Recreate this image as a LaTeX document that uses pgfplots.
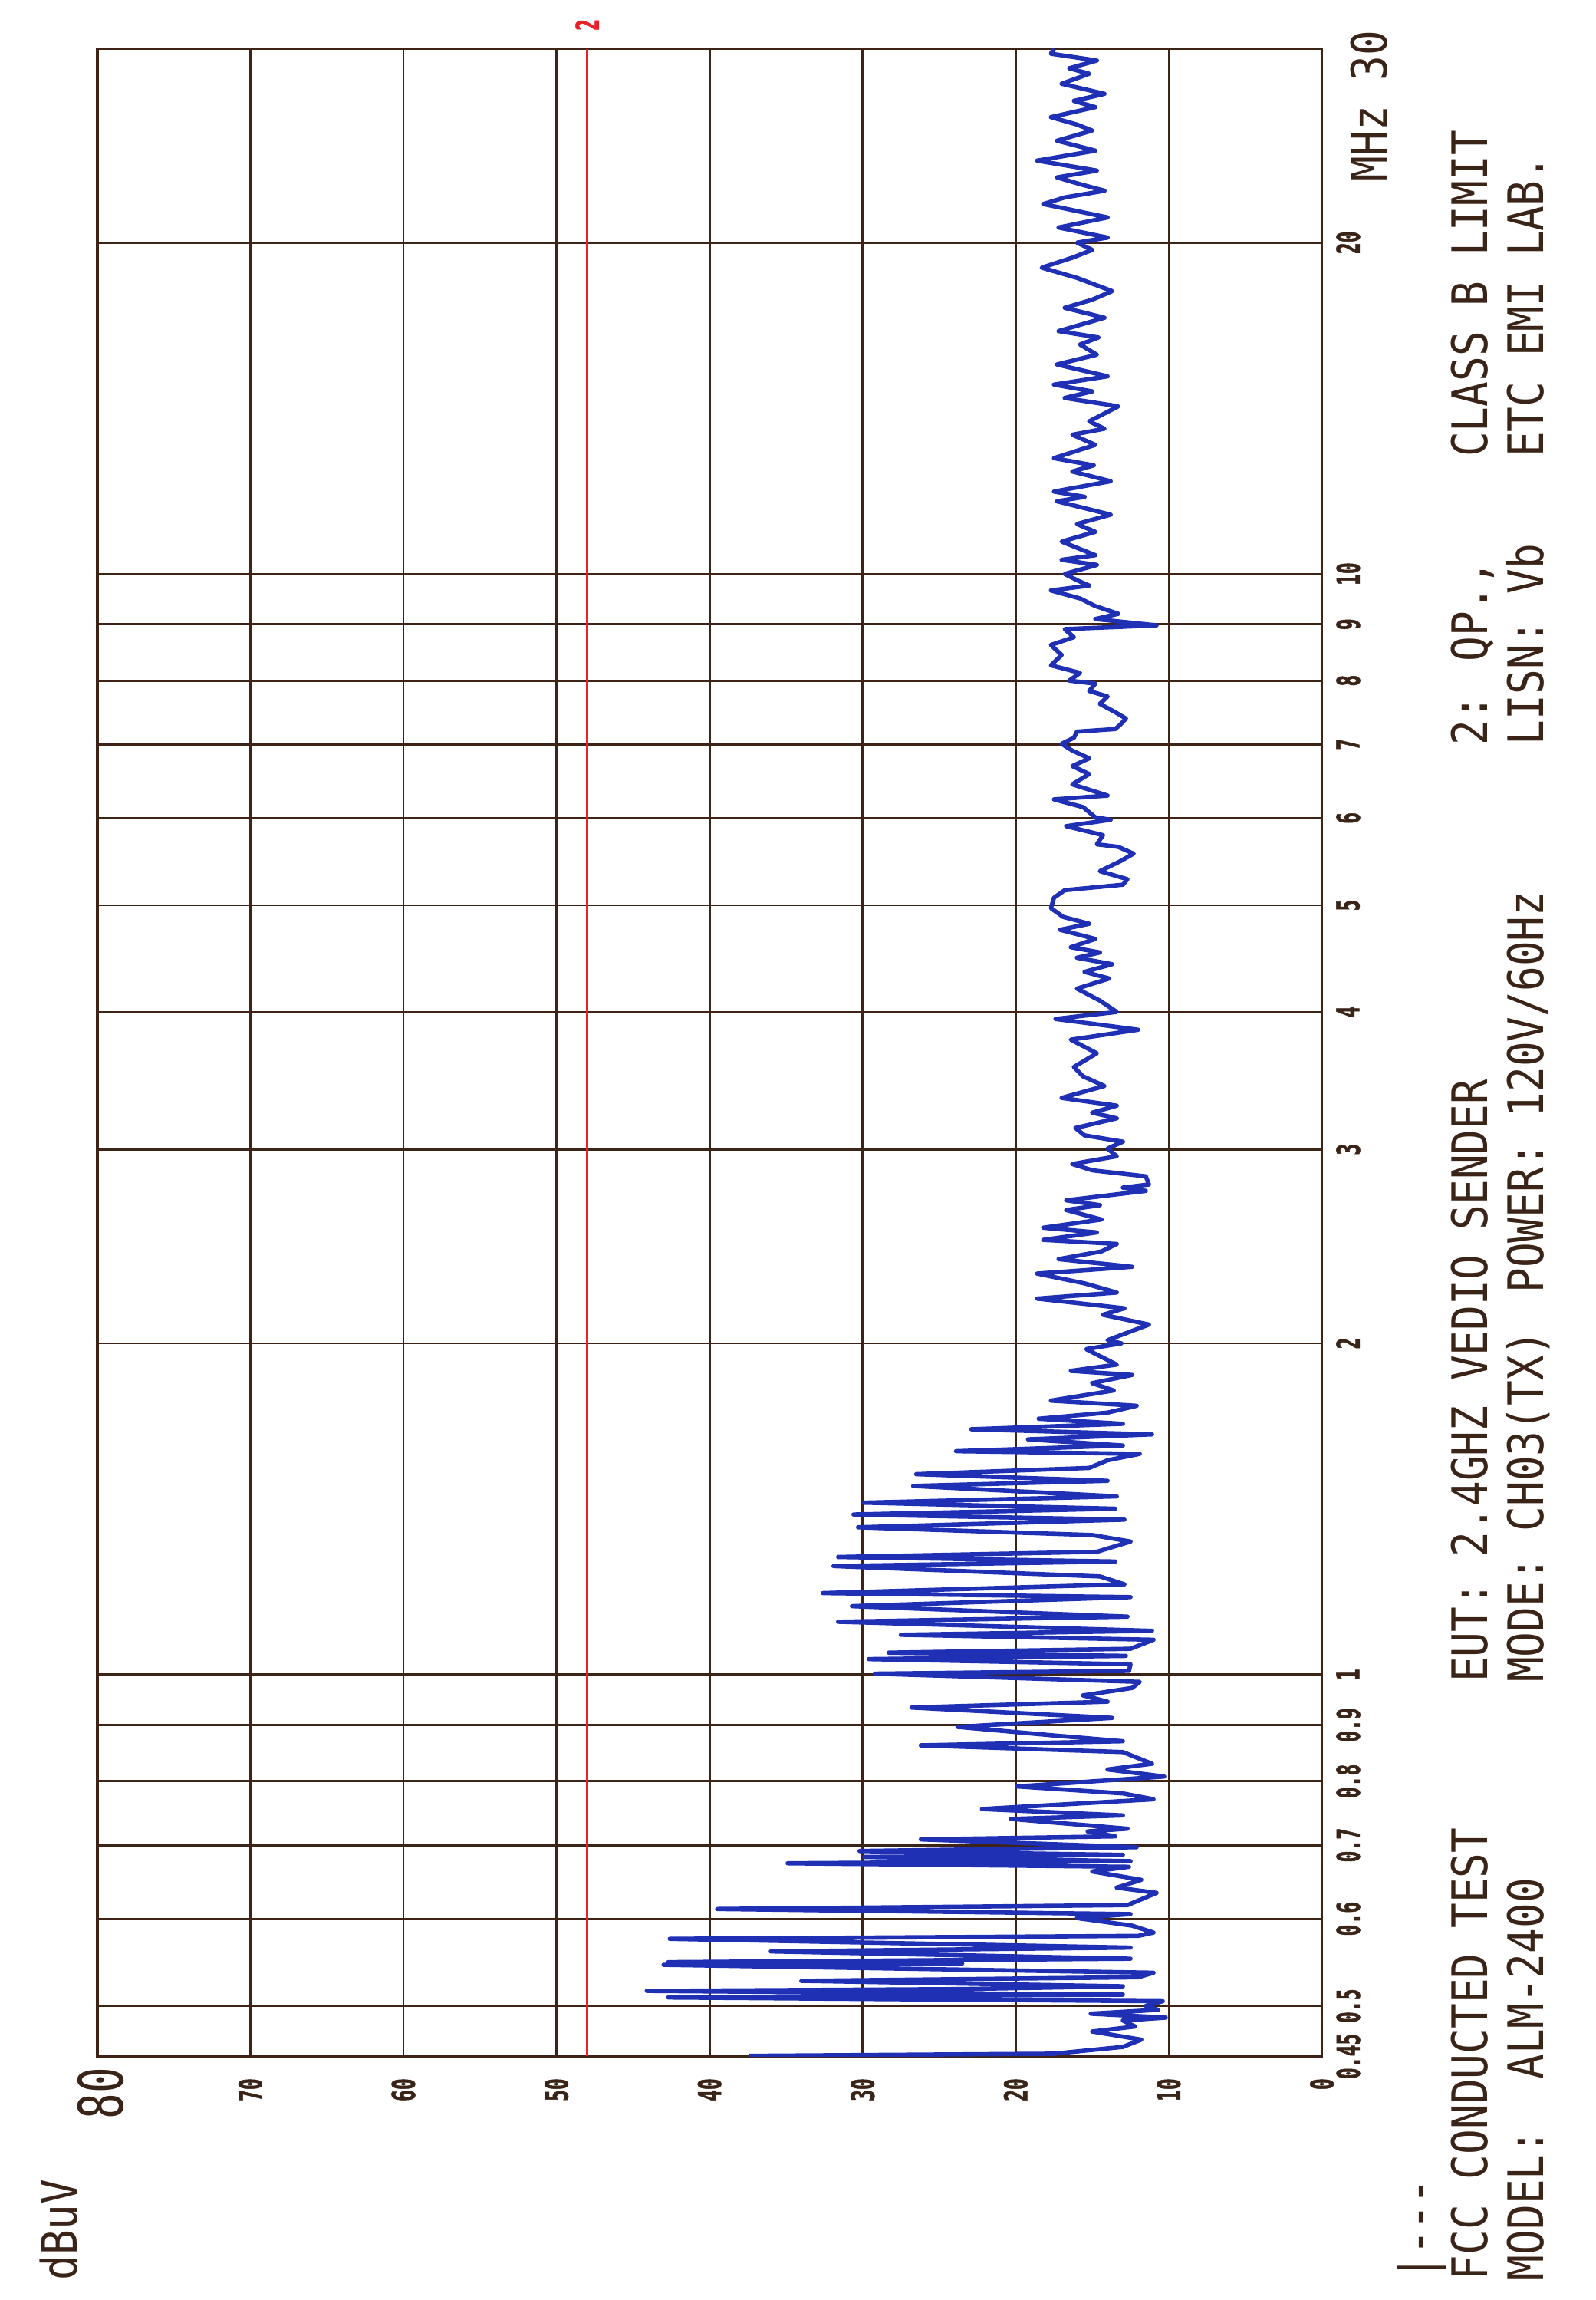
\documentclass[border=0pt]{standalone}
\usepackage{pgfplots}
\pgfplotsset{compat=1.18}
\usepackage{fontspec}
\newfontfamily\plotfont[FakeStretch=0.85]{DejaVu Sans Mono}
\newfontfamily\tickfont[FakeStretch=0.6, BoldFeatures={FakeBold=1.2}]{DejaVu Sans Mono}
\newfontfamily\bigfont[FakeStretch=0.7]{DejaVu Sans Mono}
\definecolor{gridc}{HTML}{3D2416}
\definecolor{tracec}{HTML}{1F30B4}
\definecolor{limitc}{HTML}{E8202A}
\definecolor{textc}{HTML}{3A2418}
\newcommand\mainf{\plotfont\fontsize{16}{16}\selectfont}
\newcommand\smallf{\tickfont\bfseries\fontsize{10.3}{10.3}\selectfont}
\begin{document}
\begin{tikzpicture}
\path[use as bounding box] (-31.7pt,-79.4pt) rectangle (488.4pt,670.1pt);
\begin{axis}[
  at={(0pt,0pt)}, anchor=south west,
  scale only axis, width=399.2pt, height=654.2pt,
  x dir=reverse, xmin=0, xmax=80,
  ymode=log, ymin=0.45, ymax=30,
  xtick={0,10,20,30,40,50,60,70},
  xticklabels={0,10,20,30,40,50,60,70},
  ytick={0.45,0.5,0.6,0.7,0.8,0.9,1,2,3,4,5,6,7,8,9,10,20,30},
  yticklabels={0.45,0.5,0.6,0.7,0.8,0.9,1,2,3,4,5,6,7,8,9,10,20,{}},
  yminorticks=false, xminorticks=false,
  grid=major, major grid style={gridc, line width=0.7pt},
  axis line style={gridc, line width=0.9pt},
  major tick length=0pt, minor tick length=0pt,
  yticklabel pos=right,
  yticklabel style={rotate=90, anchor=north, inner sep=0pt, font=\smallf, text=textc},
  yticklabel shift=4.5pt,
  xticklabel style={rotate=90, anchor=east, inner sep=0pt, font=\smallf, text=textc},
  xticklabel shift=7pt,
]
\addplot[limitc, line width=0.55pt] coordinates {(48,0.45) (48,30)};
\addplot[tracec, line width=1.4pt, line join=round] coordinates {
(37.4,0.4505) (17.5,0.4525) (13.0,0.459) (11.8,0.466) (15.0,0.474) (12.2,0.479)
(13.0,0.485) (10.2,0.488) (15.1,0.492) (10.7,0.496) (11.5,0.500) (10.4,0.505)
(42.7,0.509) (13.0,0.512) (44.1,0.516) (23.5,0.518) (13.0,0.521) (34.0,0.527)
(12.0,0.531) (11.0,0.536) (43.0,0.545) (23.5,0.5465) (42.7,0.548) (12.5,0.552)
(36.0,0.5605) (12.5,0.565) (42.6,0.5754) (12.0,0.579) (11.0,0.583) (12.4,0.5915)
(16.0,0.601) (12.5,0.606) (39.5,0.6125) (12.7,0.6175) (10.8,0.6335) (13.4,0.6405)
(11.8,0.651) (15.0,0.6625) (12.6,0.669) (34.9,0.674) (12.5,0.677) (29.9,0.683)
(13.0,0.686) (30.2,0.6915) (12.1,0.697) (26.2,0.7085) (13.5,0.713) (15.3,0.7205)
(12.7,0.7245) (20.3,0.7395) (13.0,0.745) (22.2,0.755) (11.0,0.7705) (13.0,0.780)
(19.9,0.7915) (10.3,0.808) (14.0,0.820) (11.1,0.830) (13.0,0.8505) (26.2,0.8625)
(13.0,0.870) (17.5,0.8805) (23.8,0.8965) (13.7,0.9135) (26.8,0.9335) (14.0,0.945)
(15.6,0.9575) (12.4,0.9725) (11.9,0.985) (29.2,1.002) (12.6,1.008)
(12.5,1.022) (29.6,1.033) (12.8,1.040) (28.3,1.047) (12.5,1.0556) (11.0,1.0757)
(27.5,1.087) (11.1,1.096) (31.6,1.117) (12.7,1.129) (30.7,1.154) (12.5,1.176)
(32.6,1.186) (12.9,1.208) (14.5,1.228) (31.9,1.255) (13.5,1.267) (31.6,1.279)
(14.7,1.293) (12.5,1.321) (15.0,1.339) (30.3,1.361) (12.9,1.383) (30.6,1.398)
(13.5,1.415) (29.9,1.433) (13.4,1.452) (26.7,1.484) (14.0,1.500) (26.5,1.521)
(15.2,1.541) (14.0,1.566) (11.9,1.587) (23.9,1.596) (13.0,1.615) (19.2,1.636)
(11.1,1.653) (22.9,1.671) (13.0,1.690) (18.5,1.708) (14.0,1.730) (12.1,1.755)
(17.7,1.774) (13.6,1.812) (15.0,1.840) (12.4,1.872) (16.4,1.888) (13.4,1.913)
(15.4,1.976) (13.1,2.000)
(14.0,2.013) (11.3,2.080) (14.3,2.123) (12.9,2.152) (18.6,2.196) (13.4,2.224)
(15.5,2.267) (18.6,2.314) (12.4,2.347) (17.2,2.385) (14.4,2.424) (13.4,2.462)
(18.2,2.483) (14.7,2.522) (18.2,2.547) (14.4,2.591) (16.7,2.643) (14.5,2.670)
(16.7,2.697) (11.5,2.751) (13.0,2.770) (11.3,2.788) (11.5,2.836) (15.0,2.872)
(16.3,2.910) (13.4,2.958) (14.0,3.006) (13.0,3.049) (15.5,3.090) (16.1,3.138)
(13.4,3.202) (15.0,3.240) (13.4,3.288) (17.0,3.342) (14.2,3.426) (15.6,3.496)
(16.2,3.565) (14.7,3.669) (16.4,3.775) (12.0,3.854) (17.4,3.942) (13.4,4.000)
(14.5,4.096) (16.0,4.200) (13.9,4.290) (15.5,4.350) (13.7,4.420) (16.0,4.480)
(14.5,4.530) (16.4,4.580) (14.8,4.660) (17.1,4.750) (15.2,4.810) (16.9,4.880)
(17.7,4.970)
(17.5,5.08) (16.8,5.16) (13.0,5.22) (12.7,5.28) (14.5,5.37) (13.2,5.48)
(12.3,5.57) (13.3,5.65) (14.7,5.68) (14.3,5.79) (16.7,5.90) (13.8,5.98)
(14.8,6.01) (15.6,6.14) (17.5,6.24) (14.0,6.29) (16.3,6.44) (15.2,6.58)
(16.3,6.69) (15.2,6.80) (16.3,6.91) (17.0,7.01) (16.2,7.10) (16.0,7.19)
(13.5,7.23) (13.2,7.29) (12.8,7.39) (13.5,7.49) (14.5,7.62) (14.0,7.74)
(15.2,7.83) (14.8,7.95) (16.5,8.00) (15.8,8.13) (17.7,8.26) (17.0,8.44)
(17.7,8.62) (16.2,8.76) (16.8,8.91) (10.8,8.98) (14.8,9.10) (13.3,9.20)
(14.8,9.35) (15.8,9.50) (17.7,9.66) (15.2,9.76) (16.0,9.87) (16.8,10.00)
(14.7,10.19) (17.0,10.30)
(14.8,10.40) (17.0,10.70) (14.8,10.92) (16.0,11.10) (13.8,11.32) (17.3,11.64)
(15.5,11.75) (17.5,11.88) (13.8,12.14) (16.3,12.39) (14.9,12.55) (17.5,12.74)
(14.8,13.10) (16.3,13.38) (14.2,13.55) (15.2,13.76) (13.3,14.20) (16.8,14.45)
(15.0,14.65) (17.5,14.86) (14.0,15.12) (17.3,15.50) (14.7,15.82) (15.8,16.16)
(14.6,16.40) (17.2,16.62) (14.2,17.09) (16.8,17.45) (15.0,17.75) (13.7,18.07)
(16.0,18.58) (18.3,18.98) (16.3,19.38) (15.0,19.70) (16.0,20.00) (14.0,20.21)
(17.2,20.64) (14.0,21.08) (18.2,21.68) (16.8,21.98) (14.2,22.29) (15.8,22.60)
(17.3,22.92) (14.7,23.25) (18.6,23.74) (14.8,24.24) (17.3,24.75) (15.0,25.28)
(16.0,25.60) (17.7,26.00) (14.8,26.55) (16.2,26.90) (14.2,27.30) (17.0,27.88)
(15.2,28.47) (16.5,28.80) (14.7,29.27) (17.7,29.69) (17.5,30.00)
};
\end{axis}
\begin{scope}[every node/.style={rotate=90, anchor=base west, inner sep=0pt, text=textc, font=\mainf}]
\node at (435.8pt,-73.1pt) {|-{}-{}-};
\node at (453.1pt,-73.1pt) {FCC CONDUCTED TEST};
\node at (471.4pt,-73.1pt) {MODEL:\ \ ALM-2400};
\node at (453.1pt,121.7pt) {EUT: 2.4GHZ VEDIO SENDER};
\node at (471.4pt,121.7pt) {MODE: CH03(TX)};
\node at (471.4pt,248.5pt) {POWER: 120V/60Hz};
\node at (453.1pt,427.1pt) {2: QP.,};
\node at (471.4pt,427.1pt) {LISN: Vb};
\node at (453.1pt,520.9pt) {CLASS B LIMIT};
\node at (471.4pt,520.9pt) {ETC EMI LAB.};
\node at (-6.7pt,-73.1pt) {dBuV};
\node[anchor=base east, font=\bigfont\fontsize{20}{20}\selectfont] at (8.5pt,-3.4pt) {80};
\node[anchor=base east] at (420.4pt,660.4pt) {MHz 30};
\node[anchor=center, text=limitc, font=\smallf] at (159.7pt,662pt) {2};
\end{scope}
\end{tikzpicture}
\end{document}
